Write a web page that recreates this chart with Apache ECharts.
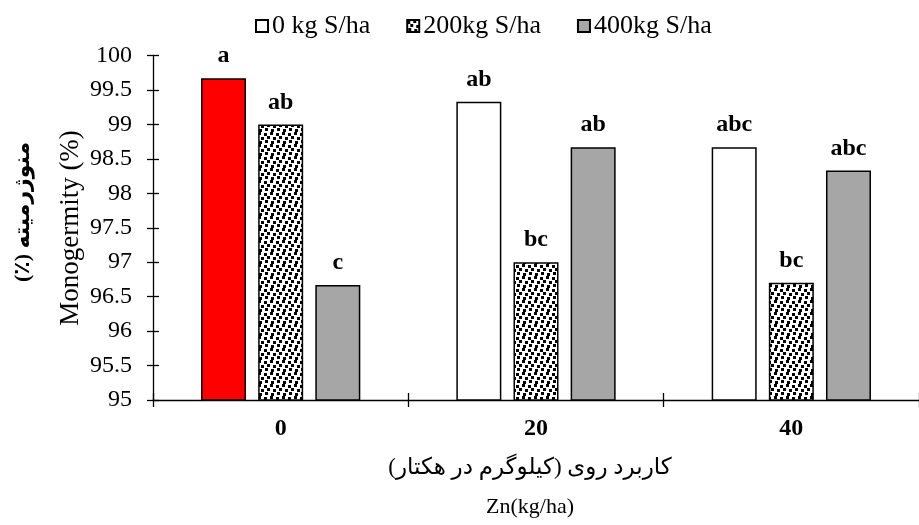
<!DOCTYPE html>
<html>
<head>
<meta charset="utf-8">
<script src="https://cdn.jsdelivr.net/npm/echarts@6/dist/echarts.min.js"></script>
<style>
html,body{margin:0;padding:0;background:#fff;}
#chart{width:919px;height:525px;}
</style>
</head>
<body>
<div id="chart"></div>
<script>
const categories = ['0', '20', '40'];
const seriesNames = ['0 kg S/ha', '200kg S/ha', '400kg S/ha'];
const s0Values = [99.67, 99.33, 98.67];
const s200Values = [99.0, 97.0, 96.7];
const s400Values = [96.67, 98.67, 98.33];
const s0Letters = ['a', 'ab', 'abc'];
const s200Letters = ['ab', 'bc', 'bc'];
const s400Letters = ['c', 'ab', 'abc'];
const yTitleEn = 'Monogermity (%)';
const yTitleFa = 'منوژرمیته (٪)\u200F';
const xTitleFa = 'کاربرد روی (کیلوگرم در هکتار)';
const xTitleEn = 'Zn(kg/ha)';

const SERIF = '"Liberation Serif", "Times New Roman", serif';
const FA = '"Liberation Serif", "DejaVu Sans", sans-serif';

// dotted pattern tile
const tile = document.createElement('canvas');
tile.width = 12; tile.height = 12;
const tc = tile.getContext('2d');
tc.fillStyle = '#fff'; tc.fillRect(0, 0, 12, 12);
tc.fillStyle = '#000';
[[0,1],[6,0],[3,4],[9,5],[1,8],[7,9]].forEach(p => tc.fillRect(p[0], p[1], 3, 3));

const chart = echarts.init(document.getElementById('chart'), null, {renderer: 'canvas'});

function labelCfg(letters) {
  return {
    show: true, position: 'top', distance: 10,
    fontFamily: SERIF, fontWeight: 'bold', fontSize: 24, color: '#000',
    formatter: p => letters[p.dataIndex]
  };
}

const barBase = {
  type: 'bar', barWidth: 45, barGap: '27%', xAxisIndex: 0, yAxisIndex: 0,
};

chart.setOption({
  animation: false,
  backgroundColor: '#fff',
  grid: {left: 153, right: -8, top: 55.5, bottom: 125, containLabel: false},
  legend: {
    top: 8, left: 250, itemWidth: 12, itemHeight: 12, itemGap: 36,
    icon: 'rect',
    textStyle: {fontFamily: SERIF, fontSize: 26, color: '#000', padding: [0, 0, 0, -1]},
    data: seriesNames
  },
  xAxis: [{
    type: 'category', data: categories,
    axisLine: {lineStyle: {color: '#000', width: 1.3}},
    axisTick: {show: true, inside: false, length: 7, lineStyle: {color: '#000', width: 1.3}},
    axisLabel: {fontFamily: SERIF, fontWeight: 'bold', fontSize: 24, color: '#000', margin: 17}
  }, {
    type: 'category', data: categories, position: 'bottom',
    axisLine: {show: false},
    axisTick: {show: true, inside: true, length: 7, lineStyle: {color: '#000', width: 1.3}},
    axisLabel: {show: false}
  }],
  yAxis: [{
    type: 'value', min: 95, max: 100, interval: 0.5,
    axisLine: {show: true, lineStyle: {color: '#000', width: 1.3}},
    axisTick: {show: true, inside: false, length: 6, lineStyle: {color: '#000', width: 1.3}},
    splitLine: {show: false},
    axisLabel: {fontFamily: SERIF, fontSize: 24, color: '#000', margin: 21}
  }, {
    type: 'value', min: 95, max: 100, interval: 0.5, position: 'left',
    axisLine: {show: false},
    axisTick: {show: true, inside: true, length: 6, lineStyle: {color: '#000', width: 1.3}},
    splitLine: {show: false},
    axisLabel: {show: false}
  }],
  series: [
    Object.assign({}, barBase, {
      name: seriesNames[0],
      itemStyle: {color: '#ffffff', borderColor: '#000', borderWidth: 1.5},
      label: labelCfg(s0Letters),
      data: s0Values.map((v, i) => i === 0 ? {value: v, itemStyle: {color: '#ff0000'}} : v)
    }),
    Object.assign({}, barBase, {
      name: seriesNames[1],
      itemStyle: {color: {image: tile, repeat: 'repeat'}, borderColor: '#000', borderWidth: 1.5},
      label: labelCfg(s200Letters),
      data: s200Values
    }),
    Object.assign({}, barBase, {
      name: seriesNames[2],
      itemStyle: {color: '#a6a6a6', borderColor: '#000', borderWidth: 1.5},
      label: labelCfg(s400Letters),
      data: s400Values
    })
  ],
  graphic: [
    {type: 'text', x: 71, y: 228, rotation: Math.PI / 2,
     style: {text: yTitleEn, font: '27px ' + SERIF, fill: '#000', align: 'center', verticalAlign: 'middle'}},
    {type: 'text', x: 23, y: 212, rotation: Math.PI / 2,
     style: {text: yTitleFa, font: 'bold 22px ' + FA, fill: '#000', align: 'center', verticalAlign: 'middle'}},
    {type: 'text', x: 530, y: 468,
     style: {text: xTitleFa, font: '23px ' + FA, fill: '#000', align: 'center', verticalAlign: 'middle'}},
    {type: 'text', x: 530, y: 507,
     style: {text: xTitleEn, font: '22px ' + SERIF, fill: '#000', align: 'center', verticalAlign: 'middle'}}
  ]
});
</script>
</body>
</html>
